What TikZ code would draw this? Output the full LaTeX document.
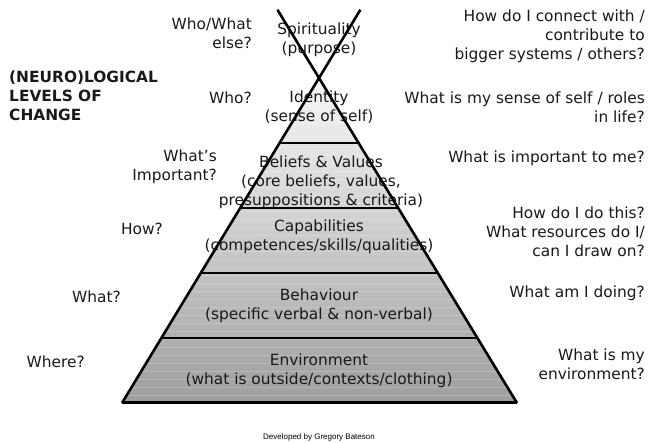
\documentclass[tikz,border=0pt]{standalone}
\usepackage{fontspec}
\setmainfont{DejaVu Sans}
\newfontfamily\footfont{Liberation Sans}
\usetikzlibrary{calc}
\tikzstyle{txt} = [inner sep=0pt, text=black!90, font=\fontsize{15.4}{19}\selectfont]
\tikzstyle{tier} = [txt, align=center]
\tikzstyle{ask} = [txt, align=right, anchor=east]
\tikzstyle{side} = [line width=2.6pt, black]

\begin{document}
\begin{tikzpicture}[x=1pt, y=-1pt]
    \useasboundingbox (0,0) rectangle (649,443);
    \coordinate (top) at (319,78);
    \coordinate (bl) at (122,403);
    \coordinate (br) at (517,403);
    % body of the pyramid, light at the tip
    \shade [top color=black!3, bottom color=black!38] (top) -- (bl) -- (br) -- cycle;
    \begin{scope}
        \clip (top) -- (bl) -- (br) -- cycle;
        \foreach \y in {84,92,...,404}
            \draw [white, opacity=0.2, line width=1pt] (100,\y) -- (540,\y);
    \end{scope}
    % the levels
    \node (spirit) [tier] at (319,40) {Spirituality\\(purpose)};
    \node (ident) [tier] at (319,107) {Identity\\(sense of self)};
    \node (belief) [tier] at (321,182) {Beliefs \& Values\\(core beliefs, values,\\presuppositions \& criteria)};
    \node (capab) [tier] at (319,237) {Capabilities\\(competences/skills/qualities)};
    \node (behav) [tier] at (319,306) {Behaviour\\(specific verbal \& non-verbal)};
    \node (envir) [tier] at (319,371) {Environment\\(what is outside/contexts/clothing)};
    % questions on the left
    \node (qspirit) [ask] at (252,33) {Who/What\\else?};
    \node (qident) [ask] at (252,98) {Who?};
    \node (qbelief) [ask] at (217,167) {What’s\\Important?};
    \node (qcapab) [ask] at (163,229) {How?};
    \node (qbehav) [ask] at (121,297) {What?};
    \node (qenvir) [ask] at (85,362) {Where?};
    % questions on the right
    \node (aspirit) [ask] at (645,36) {How do I connect with /\\contribute to\\bigger systems / others?};
    \node (aident) [ask] at (645,107) {What is my sense of self / roles\\in life?};
    \node (abelief) [ask] at (645,158) {What is important to me?};
    \node (acapab) [ask] at (645,232) {How do I do this?\\What resources do I/\\can I draw on?};
    \node (abehav) [ask] at (645,293) {What am I doing?};
    \node (aenvir) [ask] at (645,364) {What is my\\environment?};
    \node (title) [txt, align=left, anchor=west, font=\bfseries\fontsize{15.4}{19}\selectfont] at (9,96) {(NEURO)LOGICAL\\LEVELS OF\\CHANGE};
    \node (credit) [inner sep=0pt, font=\footfont\fontsize{8}{10}\selectfont] at (319,437) {Developed by Gregory Bateson};
    % outline, dividers and the crossed tip
    \foreach \t in {0.2,0.4,0.6,0.8}
        \draw [side] ($(top)!\t!(bl)$) -- ($(top)!\t!(br)$);
    \draw [side] (bl) -- ($(top)!-0.21!(bl)$);
    \draw [side] (br) -- ($(top)!-0.21!(br)$);
    \draw [side, line width=3pt] (bl) -- (br);
\end{tikzpicture}
\end{document}
